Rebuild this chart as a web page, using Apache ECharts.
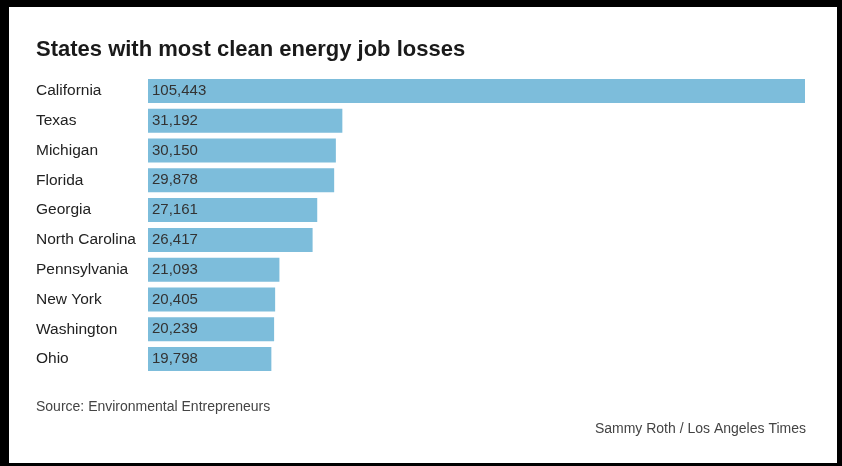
<!DOCTYPE html>
<html><head><meta charset="utf-8">
<script src="https://cdn.jsdelivr.net/npm/echarts@6/dist/echarts.min.js"></script>
<style>html,body{margin:0;padding:0;background:#000;}#c{width:842px;height:466px;}</style>
</head><body><div id="c"></div>
<script>
const states = ["California","Texas","Michigan","Florida","Georgia","North Carolina","Pennsylvania","New York","Washington","Ohio"];
const jobLosses = [105443,31192,30150,29878,27161,26417,21093,20405,20239,19798];
const titleText = "States with most clean energy job losses";
const sourceText = "Source: Environmental Entrepreneurs";
const creditText = "Sammy Roth / Los Angeles Times";

const chart = echarts.init(document.getElementById('c'));
chart.setOption({
  backgroundColor: '#000',
  animation: false,
  graphic: [{type:'rect', shape:{x:9,y:7,width:828,height:456}, style:{fill:'#fff'}, z:-10}],
  title: [
    {text:titleText, left:36, top:39, padding:0, textStyle:{fontFamily:'"Liberation Sans",sans-serif', fontSize:22, fontWeight:'bold', color:'#1a1a1a'}},
    {text:sourceText, left:36, top:400, padding:0, textStyle:{fontFamily:'"Liberation Sans",sans-serif', fontSize:14, fontWeight:'normal', color:'#444'}},
    {text:creditText, right:36, top:422, padding:0, textStyle:{fontFamily:'"Liberation Sans",sans-serif', fontSize:14, fontWeight:'normal', color:'#444'}}
  ],
  grid: {left:148, right:37, top:76, bottom:92, containLabel:false},
  xAxis: {type:'value', min:0, max:105443, show:false},
  yAxis: {type:'category', data:states, inverse:true,
    axisLine:{show:false}, axisTick:{show:false},
    axisLabel:{align:'left', margin:112, fontSize:15.5, color:'#222', padding:[3,0,0,0], fontFamily:'"Liberation Sans",sans-serif'}},
  series: [{type:'bar', data:jobLosses, barWidth:24, itemStyle:{color:'#7dbddb'},
    label:{show:true, position:'insideLeft', distance:4, fontSize:15, color:'#333', padding:[3,0,0,0], fontFamily:'"Liberation Sans",sans-serif',
      formatter: p => p.value.toLocaleString('en-US')}}]
});
</script></body></html>
